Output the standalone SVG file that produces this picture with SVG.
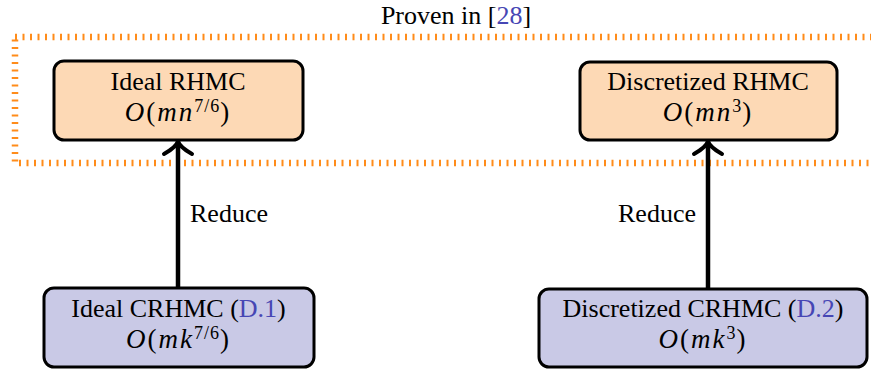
<svg xmlns="http://www.w3.org/2000/svg" width="871" height="373" viewBox="0 0 871 373">
<style>
text{font-family:"Liberation Serif","Times New Roman",serif;font-size:26px;fill:#000}
.c{text-anchor:middle}
.m{font-size:27px;letter-spacing:2px}
.i{font-style:italic}
.sup{font-size:18px;letter-spacing:1px}
.lnk{fill:#4646b4}
.peach{fill:#fdd9b5;stroke:#000;stroke-width:3}
.lav{fill:#c9c9e6;stroke:#000;stroke-width:3}
.edge{stroke:#000;stroke-width:4.5;fill:none}
.head{stroke:#000;stroke-width:4;fill:none;stroke-linecap:round;stroke-linejoin:round}
</style>
<g id="region">
<text class="c" x="456" y="24">Proven in [<tspan class="lnk">28</tspan>]</text>
<rect x="15" y="37" width="900" height="126" fill="none" stroke="#ff8c1a" stroke-width="6.5" stroke-dasharray="2 5.5"/>
</g>
<g id="connectors">
<line class="edge" x1="178" y1="287" x2="178" y2="143"/>
<path class="head" d="M164,154 C171,150 177,146 178,141 C179,146 185,150 192,154"/>
<text x="190" y="222">Reduce</text>
<line class="edge" x1="708" y1="288" x2="708" y2="143"/>
<path class="head" d="M694,154 C701,150 707,146 708,141 C709,146 715,150 722,154"/>
<text x="696" y="222" text-anchor="end">Reduce</text>
</g>
<g id="ideal-rhmc">
<rect class="peach" x="54" y="61" width="249" height="79" rx="10"/>
<text class="c" x="178" y="90">Ideal RHMC</text>
<text class="c m" x="178" y="121"><tspan class="i">O</tspan>(<tspan class="i">mn</tspan><tspan class="sup" dy="-9">7/6</tspan><tspan dy="9">)</tspan></text>
</g>
<g id="discretized-rhmc">
<rect class="peach" x="580" y="62" width="257" height="78" rx="10"/>
<text class="c" x="708" y="90">Discretized RHMC</text>
<text class="c m" x="708" y="121"><tspan class="i">O</tspan>(<tspan class="i">mn</tspan><tspan class="sup" dy="-9">3</tspan><tspan dy="9">)</tspan></text>
</g>
<g id="ideal-crhmc">
<rect class="lav" x="44" y="288" width="270" height="79" rx="10"/>
<text class="c" x="178.5" y="317">Ideal CRHMC (<tspan class="lnk">D.1</tspan>)</text>
<text class="c m" x="178.5" y="348"><tspan class="i">O</tspan>(<tspan class="i">mk</tspan><tspan class="sup" dy="-9">7/6</tspan><tspan dy="9">)</tspan></text>
</g>
<g id="discretized-crhmc">
<rect class="lav" x="539" y="289" width="328" height="78" rx="10"/>
<text class="c" x="703" y="317">Discretized CRHMC (<tspan class="lnk">D.2</tspan>)</text>
<text class="c m" x="703" y="348"><tspan class="i">O</tspan>(<tspan class="i">mk</tspan><tspan class="sup" dy="-9">3</tspan><tspan dy="9">)</tspan></text>
</g>
</svg>
